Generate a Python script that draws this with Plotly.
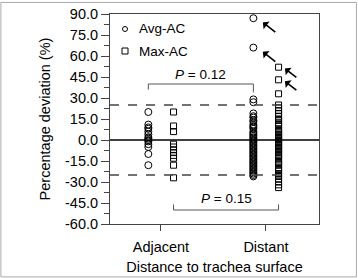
import plotly.graph_objects as go

categories = ["Adjacent", "Distant"]
cat_pos = [1, 2]

adj_avg = [20, 11, 9, 8, 6, 4, 2, 1, 0, -1, -3, -5, -10, -18]
adj_max = [20, 10, 6, -3, -5, -7, -9, -11, -13, -18, -27]
dist_avg = [87, 66, 29, 27, 19, 17, 16, 14, 13, 11, 10, 9, 8, 6, 5, 4, 3, 2, 1, 0,
            -1, -2, -3, -4, -5, -6, -7, -8, -9, -10, -11, -12, -13, -14, -15, -16,
            -17, -18, -19, -20, -21, -22, -23, -24, -25, -26]
dist_max = [52, 43, 33, 25, 23, 21, 19, 17, 15, 14, 12, 11, 10, 8, 7, 6, 5, 4, 3, 2,
            1, 0, -1, -2, -3, -4, -5, -6, -7, -8, -9, -10, -11, -12, -13, -15, -16,
            -17, -18, -20, -21, -22, -24, -25, -26, -28, -30, -32, -34]

arrow_avg = [87, 66]
arrow_max = [52, 43]

yticks = [90, 75, 60, 45, 30, 15, 0, -15, -30, -45, -60]
yticktext = ["90.0", "75.0", "60.0", "45.0", "30.0", "15.0", "0.0", "-15.0", "-30.0", "-45.0", "-60.0"]

limit = 25
p_top = {"label": "P = 0.12", "y": 40, "left_end": 36, "right_end": 34, "text_y": 47}
p_bot = {"label": "P = 0.15", "y": -50, "left_end": -46, "right_end": -46, "text_y": -42}

off = 0.12
FONT = "Liberation Sans, Arial, sans-serif"

fig = go.Figure()

fig.add_trace(go.Scatter(
    x=[cat_pos[0] - off] * len(adj_avg) + [cat_pos[1] - off] * len(dist_avg),
    y=adj_avg + dist_avg, mode="markers", showlegend=False,
    marker=dict(symbol="circle-open", size=7, color="black", line=dict(width=1, color="black"))))
fig.add_trace(go.Scatter(
    x=[cat_pos[0] + off] * len(adj_max) + [cat_pos[1] + off] * len(dist_max),
    y=adj_max + dist_max, mode="markers", showlegend=False,
    marker=dict(symbol="square-open", size=6, color="black", line=dict(width=1, color="black"))))

# brackets
fig.add_trace(go.Scatter(
    x=[cat_pos[0] - off, cat_pos[0] - off, cat_pos[1] - off, cat_pos[1] - off],
    y=[p_top["left_end"], p_top["y"], p_top["y"], p_top["right_end"]],
    mode="lines", line=dict(color="#555", width=1), showlegend=False, hoverinfo="skip"))
fig.add_trace(go.Scatter(
    x=[cat_pos[0] + off, cat_pos[0] + off, cat_pos[1] + off, cat_pos[1] + off],
    y=[p_bot["left_end"], p_bot["y"], p_bot["y"], p_bot["right_end"]],
    mode="lines", line=dict(color="#555", width=1), showlegend=False, hoverinfo="skip"))

shapes = []
for yv in (limit, -limit):
    shapes.append(dict(type="line", xref="paper", x0=0, x1=1, yref="y", y0=yv, y1=yv,
                       line=dict(color="#444", width=1.3, dash="dash")))
shapes.append(dict(type="line", xref="paper", x0=0, x1=1, yref="y", y0=0, y1=0,
                   line=dict(color="black", width=1.5)))
# legend symbols
shapes.append(dict(type="circle", xref="paper", yref="paper", xsizemode="pixel", ysizemode="pixel",
                   xanchor=0.0718, yanchor=0.9286, x0=-2.5, x1=2.5, y0=-2.5, y1=2.5,
                   line=dict(color="black", width=1)))
shapes.append(dict(type="rect", xref="paper", yref="paper", xsizemode="pixel", ysizemode="pixel",
                   xanchor=0.0718, yanchor=0.8238, x0=-3, x1=3, y0=-3, y1=3,
                   line=dict(color="black", width=1)))
# image frame
shapes.append(dict(type="rect", xref="paper", yref="paper", x0=-0.522, x1=1.179, y0=-0.252, y1=1.055,
                   line=dict(color="#aaa", width=1), layer="below"))

annotations = [
    dict(xref="paper", yref="paper", x=0.129, y=0.9286, text="Avg-AC", showarrow=False,
         xanchor="left", yanchor="middle", font=dict(size=13.5, color="black", family=FONT)),
    dict(xref="paper", yref="paper", x=0.129, y=0.8238, text="Max-AC", showarrow=False,
         xanchor="left", yanchor="middle", font=dict(size=13.5, color="black", family=FONT)),
    dict(x=(cat_pos[0] + cat_pos[1]) / 2 - off, y=p_top["text_y"], text="<i>P</i> = 0.12", showarrow=False,
         font=dict(size=13.5, color="black", family=FONT)),
    dict(x=(cat_pos[0] + cat_pos[1]) / 2 + off, y=p_bot["text_y"], text="<i>P</i> = 0.15", showarrow=False,
         font=dict(size=13.5, color="black", family=FONT)),
]
for v in arrow_avg:
    annotations.append(dict(x=cat_pos[1] - off + 0.09, y=v - 3, ax=14, ay=11, axref="pixel", ayref="pixel",
                            showarrow=True, arrowhead=1, arrowsize=1.0, arrowwidth=1.6, arrowcolor="black",
                            standoff=0, text=""))
for v in arrow_max:
    annotations.append(dict(x=cat_pos[1] + off + 0.06, y=v - 1, ax=13, ay=10, axref="pixel", ayref="pixel",
                            showarrow=True, arrowhead=1, arrowsize=1.0, arrowwidth=1.6, arrowcolor="black",
                            standoff=0, text=""))

fig.update_layout(
    width=358, height=278,
    margin=dict(l=110, r=39, t=14, b=54),
    paper_bgcolor="white", plot_bgcolor="white",
    font=dict(family=FONT, size=14.5, color="black"),
    shapes=shapes, annotations=annotations, showlegend=False,
)
fig.update_xaxes(range=[0.515, 2.505], tickvals=cat_pos, ticktext=categories,
                 ticks="outside", ticklen=6, tickcolor="#444", showgrid=False, zeroline=False,
                 showline=True, linecolor="#444", mirror=True, linewidth=1,
                 ticklabelstandoff=4, automargin=False,
                 title=dict(text="Distance to trachea surface", standoff=7, font=dict(size=14.5)),
                 tickfont=dict(size=14.5))
fig.update_yaxes(range=[-60, 90], tickvals=yticks, ticktext=yticktext,
                 ticks="outside", ticklen=8, tickcolor="#444", showgrid=False, zeroline=False,
                 showline=True, linecolor="#444", mirror=True, linewidth=1, automargin=False,
                 minor=dict(ticks="outside", ticklen=5, dtick=7.5, tick0=0, tickcolor="#444", showgrid=False),
                 title=dict(text="Percentage deviation (%)", standoff=10, font=dict(size=14.5)),
                 tickfont=dict(size=14.5))

fig.write_html("out.html")
